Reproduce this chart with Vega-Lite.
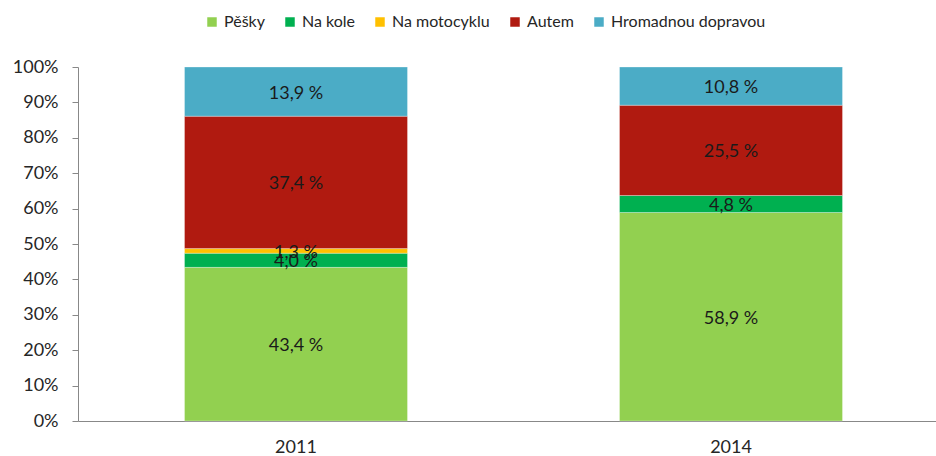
{
  "$schema": "https://vega.github.io/schema/vega-lite/v6.json",
  "autosize": {"type": "none"},
  "padding": {"left": 78, "top": 67, "right": 0, "bottom": 35},
  "width": 858,
  "height": 354,
  "background": "white",
  "config": {
    "view": {"stroke": null},
    "font": "Lato",
    "axis": {"grid": false, "domainColor": "#888888", "tickColor": "#888888", "labelColor": "#262626", "labelFont": "Lato", "title": null}
  },
  "data": {
    "values": [
      {"year": "2011", "mode": "Pěšky", "ord": 1, "value": 43.4, "label": "43,4 %"},
      {"year": "2011", "mode": "Na kole", "ord": 2, "value": 4.0, "label": "4,0 %"},
      {"year": "2011", "mode": "Na motocyklu", "ord": 3, "value": 1.3, "label": "1,3 %"},
      {"year": "2011", "mode": "Autem", "ord": 4, "value": 37.4, "label": "37,4 %"},
      {"year": "2011", "mode": "Hromadnou dopravou", "ord": 5, "value": 13.9, "label": "13,9 %"},
      {"year": "2014", "mode": "Pěšky", "ord": 1, "value": 58.9, "label": "58,9 %"},
      {"year": "2014", "mode": "Na kole", "ord": 2, "value": 4.8, "label": "4,8 %"},
      {"year": "2014", "mode": "Autem", "ord": 4, "value": 25.5, "label": "25,5 %"},
      {"year": "2014", "mode": "Hromadnou dopravou", "ord": 5, "value": 10.8, "label": "10,8 %"}
    ]
  },
  "encoding": {
    "x": {
      "field": "year", "type": "nominal",
      "scale": {"paddingInner": 0.4874, "paddingOuter": 0.2299, "align": 0.5325},
      "axis": {"labelAngle": 0, "ticks": false, "labelFontSize": 18, "labelPadding": 17, "domainWidth": 1}
    },
    "y": {
      "field": "value", "type": "quantitative", "stack": "zero",
      "scale": {"domain": [0, 100], "nice": false},
      "axis": {"values": [0,10,20,30,40,50,60,70,80,90,100], "labelExpr": "datum.value + '%'", "tickSize": 6, "labelPadding": 14, "labelFontSize": 18}
    },
    "order": {"field": "ord", "type": "quantitative"}
  },
  "layer": [
    {
      "mark": {"type": "bar", "stroke": "white", "strokeWidth": 0.5, "strokeOpacity": 0.6},
      "encoding": {
        "color": {
          "field": "mode", "type": "nominal",
          "scale": {
            "domain": ["Pěšky", "Na kole", "Na motocyklu", "Autem", "Hromadnou dopravou"],
            "range": ["#92D050", "#00B050", "#FFC000", "#B01A10", "#4BACC6"]
          },
          "legend": {
            "orient": "none", "direction": "horizontal", "title": null,
            "legendX": 126, "legendY": -53,
            "symbolType": "square", "symbolSize": 90, "symbolStrokeWidth": 0,
            "labelFontSize": 16, "labelColor": "#262626", "labelOffset": 4,
            "columnPadding": 17, "columns": 5
          }
        }
      }
    },
    {
      "mark": {"type": "text", "fontSize": 18, "color": "#1a1a1a", "dy": 2},
      "encoding": {
        "y": {"field": "value", "type": "quantitative", "stack": "zero", "bandPosition": 0.5},
        "text": {"field": "label"}
      }
    }
  ]
}
